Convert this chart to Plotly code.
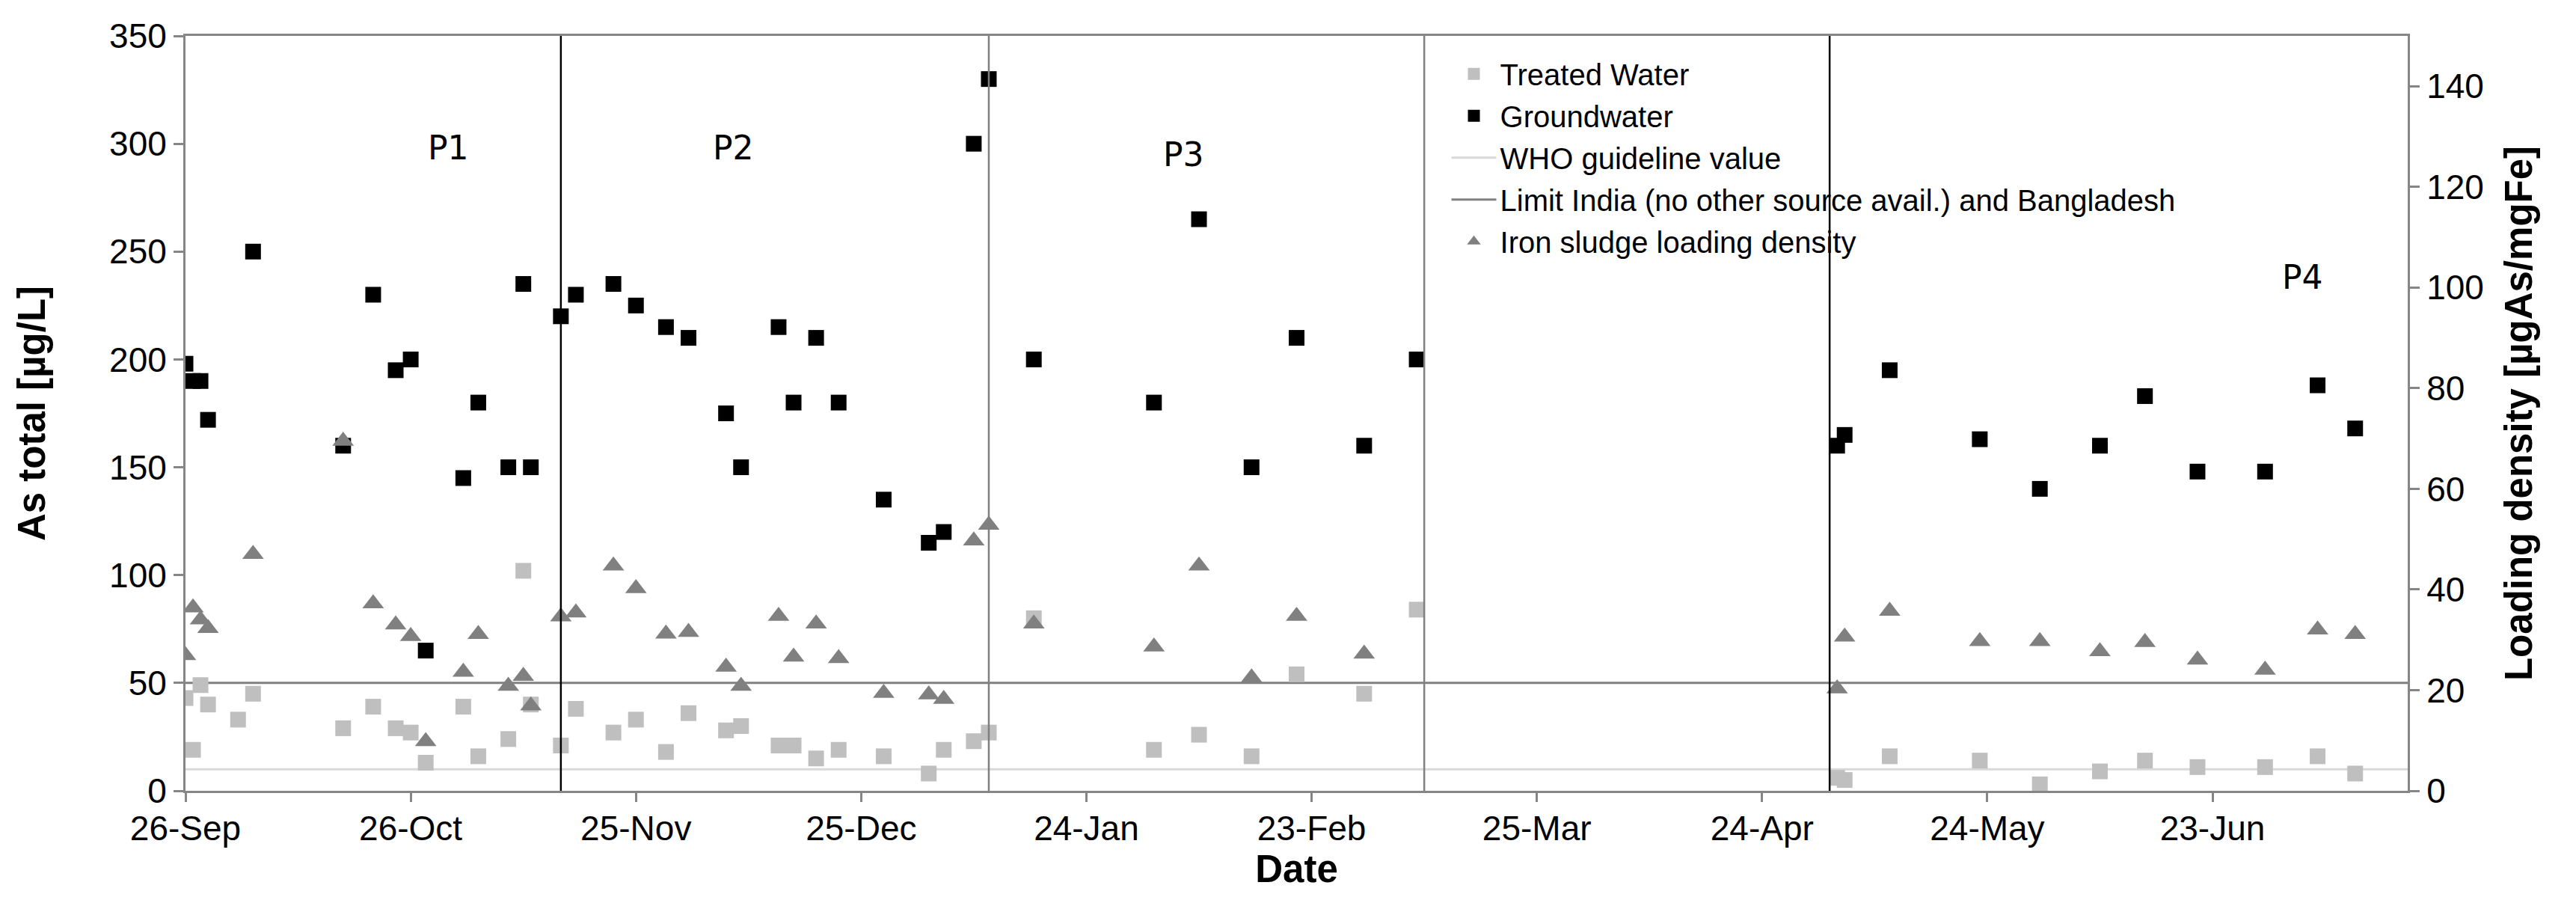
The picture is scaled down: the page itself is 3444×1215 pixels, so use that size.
import plotly.graph_objects as go

# sampling dates and values (Sep 2012 - Jul 2013)
dates_treated = ["2012-09-26", "2012-09-27", "2012-09-28", "2012-09-29", "2012-10-03", "2012-10-05",
                 "2012-10-17", "2012-10-21", "2012-10-24", "2012-10-26", "2012-10-28", "2012-11-02",
                 "2012-11-04", "2012-11-08", "2012-11-10", "2012-11-11", "2012-11-15", "2012-11-17",
                 "2012-11-22", "2012-11-25", "2012-11-29", "2012-12-02", "2012-12-07", "2012-12-09",
                 "2012-12-14", "2012-12-16", "2012-12-19", "2012-12-22", "2012-12-28", "2013-01-03",
                 "2013-01-05", "2013-01-09", "2013-01-11", "2013-01-17", "2013-02-02", "2013-02-08",
                 "2013-02-15", "2013-02-21", "2013-03-02", "2013-03-09", "2013-05-04", "2013-05-05",
                 "2013-05-11", "2013-05-23", "2013-05-31", "2013-06-08", "2013-06-14", "2013-06-21",
                 "2013-06-30", "2013-07-07", "2013-07-12"]
treated = [43, 19, 49, 40, 33, 45, 29, 39, 29, 27, 13, 39, 16, 24, 102, 40, 21, 38, 27, 33, 18, 36,
           28, 30, 21, 21, 15, 19, 16, 8, 19, 23, 27, 80, 19, 26, 16, 54, 45, 84, 6, 5, 16, 14, 3, 9,
           14, 11, 11, 16, 8]

dates_gw = [d for d in dates_treated if d != "2012-10-03"]
groundwater = [198, 190, 190, 172, 250, 160, 230, 195, 200, 65, 145, 180, 150, 235, 150, 220, 230,
               235, 225, 215, 210, 175, 150, 215, 180, 210, 180, 135, 115, 120, 300, 330, 200, 180,
               265, 150, 210, 160, 200, 160, 165, 195, 163, 140, 160, 183, 148, 148, 188, 168]

dates_load = [d for d in dates_gw if d != "2013-03-09"]
loading = [26.9, 36.4, 34.0, 32.3, 47.0, 69.5, 37.2, 33.0, 30.7, 9.8, 23.6, 31.1, 20.8, 22.8, 16.9,
           34.6, 35.4, 44.7, 40.2, 31.2, 31.5, 24.6, 20.8, 34.7, 26.6, 33.2, 26.3, 19.4, 19.1, 18.2,
           49.7, 52.8, 33.2, 28.6, 44.7, 22.5, 34.7, 27.2, 20.3, 30.6, 35.7, 29.7, 29.7, 27.7, 29.5,
           26.0, 24.0, 32.0, 31.1]

who_value = 10
india_value = 50
x_range = ["2012-09-26", "2013-07-19"]

period_bounds = ["2012-11-15", "2013-01-11", "2013-03-10", "2013-05-03"]
period_colors = ["black", "#808080", "#808080", "black"]
period_names = ["P1", "P2", "P3", "P4"]
period_name_x = ["2012-10-31", "2012-12-08", "2013-02-06", "2013-07-05"]
period_name_y = [298, 298, 295, 238]

AXIS = "#868686"
FONT = "Liberation Sans, Arial, sans-serif"

fig = go.Figure()

fig.add_trace(go.Scatter(x=x_range, y=[who_value, who_value], mode="lines",
                         name="WHO guideline value", legendrank=3, legendgroup="c",
                         line=dict(color="#d9d9d9", width=3)))
fig.add_trace(go.Scatter(x=x_range, y=[india_value, india_value], mode="lines",
                         name="Limit India (no other source avail.) and Bangladesh",
                         legendrank=4, legendgroup="d",
                         line=dict(color="#808080", width=3)))
fig.add_trace(go.Scatter(x=dates_treated, y=treated, mode="markers", name="Treated Water",
                         legendrank=1, legendgroup="a",
                         marker=dict(symbol="square", size=21, color="#bfbfbf")))
fig.add_trace(go.Scatter(x=dates_gw, y=groundwater, mode="markers", name="Groundwater",
                         legendrank=2, legendgroup="b",
                         marker=dict(symbol="square", size=21, color="black")))
fig.add_trace(go.Scatter(x=dates_load, y=loading, mode="markers", yaxis="y2",
                         name="Iron sludge loading density", legendrank=5, legendgroup="e",
                         marker=dict(symbol="triangle-up", size=25, color="#808080")))

for d, c in zip(period_bounds, period_colors):
    fig.add_shape(type="line", xref="x", yref="paper", x0=d, x1=d, y0=0, y1=1,
                  line=dict(color=c, width=2.5))

for name, px_, py_ in zip(period_names, period_name_x, period_name_y):
    fig.add_annotation(x=px_, y=py_, text=name, showarrow=False,
                       font=dict(family="DejaVu Sans", size=44, color="black"))

fig.update_layout(
    width=3444, height=1215,
    margin=dict(l=240, r=233, t=40, b=166),
    plot_bgcolor="white", paper_bgcolor="white",
    font=dict(family=FONT, size=46, color="black"),
    showlegend=True,
    legend=dict(x=0.568, y=0.982, xanchor="left", yanchor="top",
                bgcolor="rgba(0,0,0,0)", font=dict(size=40),
                traceorder="grouped", tracegroupgap=1, itemwidth=60),
    xaxis=dict(type="date", range=x_range, tick0="2012-09-26", dtick=30 * 86400000,
               tickformat="%-d-%b", showgrid=False, zeroline=False,
               showline=True, linecolor=AXIS, linewidth=3, mirror=True,
               ticks="outside", ticklen=12, tickwidth=3, tickcolor=AXIS,
               ticklabelstandoff=-4,
               title=dict(text="Date", font=dict(size=51, weight="bold"), standoff=12)),
    yaxis=dict(range=[0, 350], dtick=50, showgrid=False, zeroline=False,
               showline=True, linecolor=AXIS, linewidth=3,
               ticks="outside", ticklen=13, tickwidth=3, tickcolor=AXIS,
               title=dict(text="As total [µg/L]", font=dict(size=51, weight="bold"), standoff=70)),
    yaxis2=dict(range=[0, 150], dtick=20, overlaying="y", side="right", showgrid=False,
                zeroline=False, showline=True, linecolor=AXIS, linewidth=3,
                ticks="outside", ticklen=13, tickwidth=3, tickcolor=AXIS,
                title=dict(text="Loading density [µgAs/mgFe]", font=dict(size=51, weight="bold"),
                           standoff=30)),
)

fig.write_html("out.html")
